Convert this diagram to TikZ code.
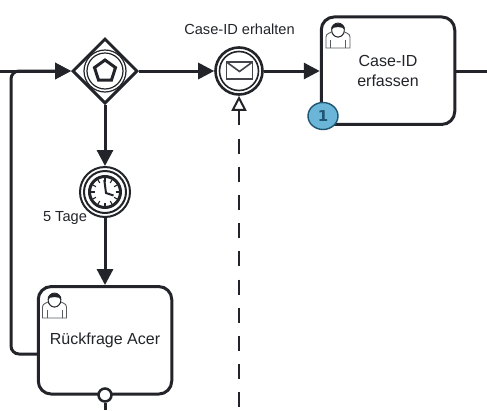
\documentclass[tikz,border=0pt]{standalone}
\usepackage{fontspec}
\setmainfont{Liberation Sans}
\newfontfamily\badgefont{DejaVu Sans}
\usetikzlibrary{arrows.meta,calc,shapes.geometric}
\definecolor{ink}{HTML}{22242A}
\definecolor{badge}{HTML}{6BB5D8}
\definecolor{badgeink}{HTML}{1F5673}
\tikzset{
  x=1pt,y=-1pt,
  flow/.style={draw=ink,line width=3pt,-{Triangle[length=16pt,width=16pt]}},
  flowplain/.style={draw=ink,line width=3pt},
  msgflow/.style={draw=ink,line width=2.4pt,dash pattern=on 15pt off 13.2pt,{Triangle[open,length=15pt,width=15pt,line width=2pt,fill=white]}-},
  taskbox/.style={draw=ink,line width=3pt,fill=white,rounded corners=13pt,minimum width=133.5pt,minimum height=107.5pt,inner sep=0pt},
  ring/.style={circle,draw=ink,fill=white,inner sep=0pt},
  lab/.style={text=ink,font=\fontsize{14.6}{17}\selectfont,inner sep=0pt},
  tasklab/.style={text=ink,font=\fontsize{16}{20}\selectfont,align=center,inner sep=0pt},
}
\newcommand{\usericon}[1]{%
  \begin{scope}[shift={(#1)}]
    \draw[ink!75,line width=.9pt,fill=white] (-12,24) -- (-12,13) .. controls (-12,9) and (-7,9) .. (-4,6.5) -- (4,6.5) .. controls (7,9) and (12,9) .. (12,13) -- (12,24) -- cycle;
    \draw[ink!75,line width=.9pt] (-7.5,24) -- (-7.5,16) (7.5,24) -- (7.5,16);
    \draw[ink!75,line width=.9pt,fill=white] (-6,9) .. controls (-3,14.5) and (3,14.5) .. (6,9);
    \draw[ink,line width=.9pt,fill=white] (0,6) circle[x radius=6.3,y radius=7];
    \fill[ink] (-6.8,6) .. controls (-8,-3) and (8,-3) .. (6.8,6) .. controls (6,2) and (-6,2) .. (-6.8,6) -- cycle;
  \end{scope}}
\begin{document}
\begin{tikzpicture}
\useasboundingbox (0,0) rectangle (487,410);
\fill[white] (0,0) rectangle (487,410);
% free ends
\coordinate (inL) at (0,71);
\coordinate (outR) at (487,71);
\coordinate (dashEnd) at (239,410);
\coordinate (tailEnd) at (105,410);
\coordinate (loopA) at (11,354);
\coordinate (loopB) at (11,71);
% gateway
\node[diamond,aspect=1,draw=ink,line width=3pt,fill=white,minimum width=65pt,minimum height=65pt,inner sep=0pt,line join=miter] (gw) at (105,71) {};
\draw[ink,line width=1.2pt] (gw.center) circle[radius=21];
\draw[ink,line width=1.2pt] (gw.center) circle[radius=18];
\draw[ink,line width=3pt,line join=miter] (105,60) -- (115.5,67.6) -- (111.5,80) -- (98.5,80) -- (94.5,67.6) -- cycle;
% message event
\node[ring,line width=2.6pt,minimum size=47pt] (msg) at (239,71) {};
\draw[ink,line width=1.6pt] (msg.center) circle[radius=19.5];
\draw[ink!85,line width=1.6pt,line join=miter] (226.5,62) rectangle (252.5,79);
\draw[ink!85,line width=1.6pt] (226.5,62) -- (239.5,71.5) -- (252.5,62);
% timer
\node[ring,line width=2pt,minimum size=50pt] (tim) at (105,192) {};
\draw[ink,line width=2pt] (tim.center) circle[radius=21];
\draw[ink,line width=3pt] (tim.center) circle[radius=15.5];
\foreach \a in {0,30,...,330}
  \draw[ink,line width=1.1pt] ($(tim.center)+(\a:10.5)$) -- ($(tim.center)+(\a:14)$);
\draw[ink,line width=2pt] (104.3,180) -- (106,193) -- (113.5,195.5);
% tasks
\node[taskbox] (t1) at (388,70.7) {};
\node[taskbox] (t2) at (105,340.3) {};
% connectors
\draw[flow] (inL) -- (gw.west);
\draw[flow,rounded corners=8pt] (t2.west |- loopA) -- (loopA) -- (loopB) -- (gw.west);
\draw[flow] (gw.east) -- (msg.west);
\draw[flow] (msg.east) -- (t1.west |- msg.east);
\draw[flowplain] (t1.east |- outR) -- (outR);
\draw[flow] (gw.south) -- (tim.north);
\draw[flow] (tim.south) -- (t2.north);
\draw[msgflow] (msg.south) -- (dashEnd);
% icons and labels
\usericon{338,24}
\usericon{54.5,294}
\node[tasklab] (t1lab) at (388,70.5) {Case-ID\\erfassen};
\node[tasklab] (t2lab) at (105,340.5) {Rückfrage Acer};
\node[lab] (msglab) at (239.5,29) {Case-ID erhalten};
\node[lab] (timlab) at (65,218) {5 Tage};
% badge
\node[ellipse,draw=badgeink,line width=1.4pt,fill=badge,minimum width=30pt,minimum height=27pt,inner sep=0pt,text=badgeink,font=\badgefont\bfseries\fontsize{15}{15}\selectfont] (bd) at (323,116) {1};
% boundary circle
\node[ring,line width=2.5pt,minimum size=13pt] (bnd) at (105,395) {};
\draw[flowplain] (bnd.south) -- (tailEnd);
\end{tikzpicture}
\end{document}
